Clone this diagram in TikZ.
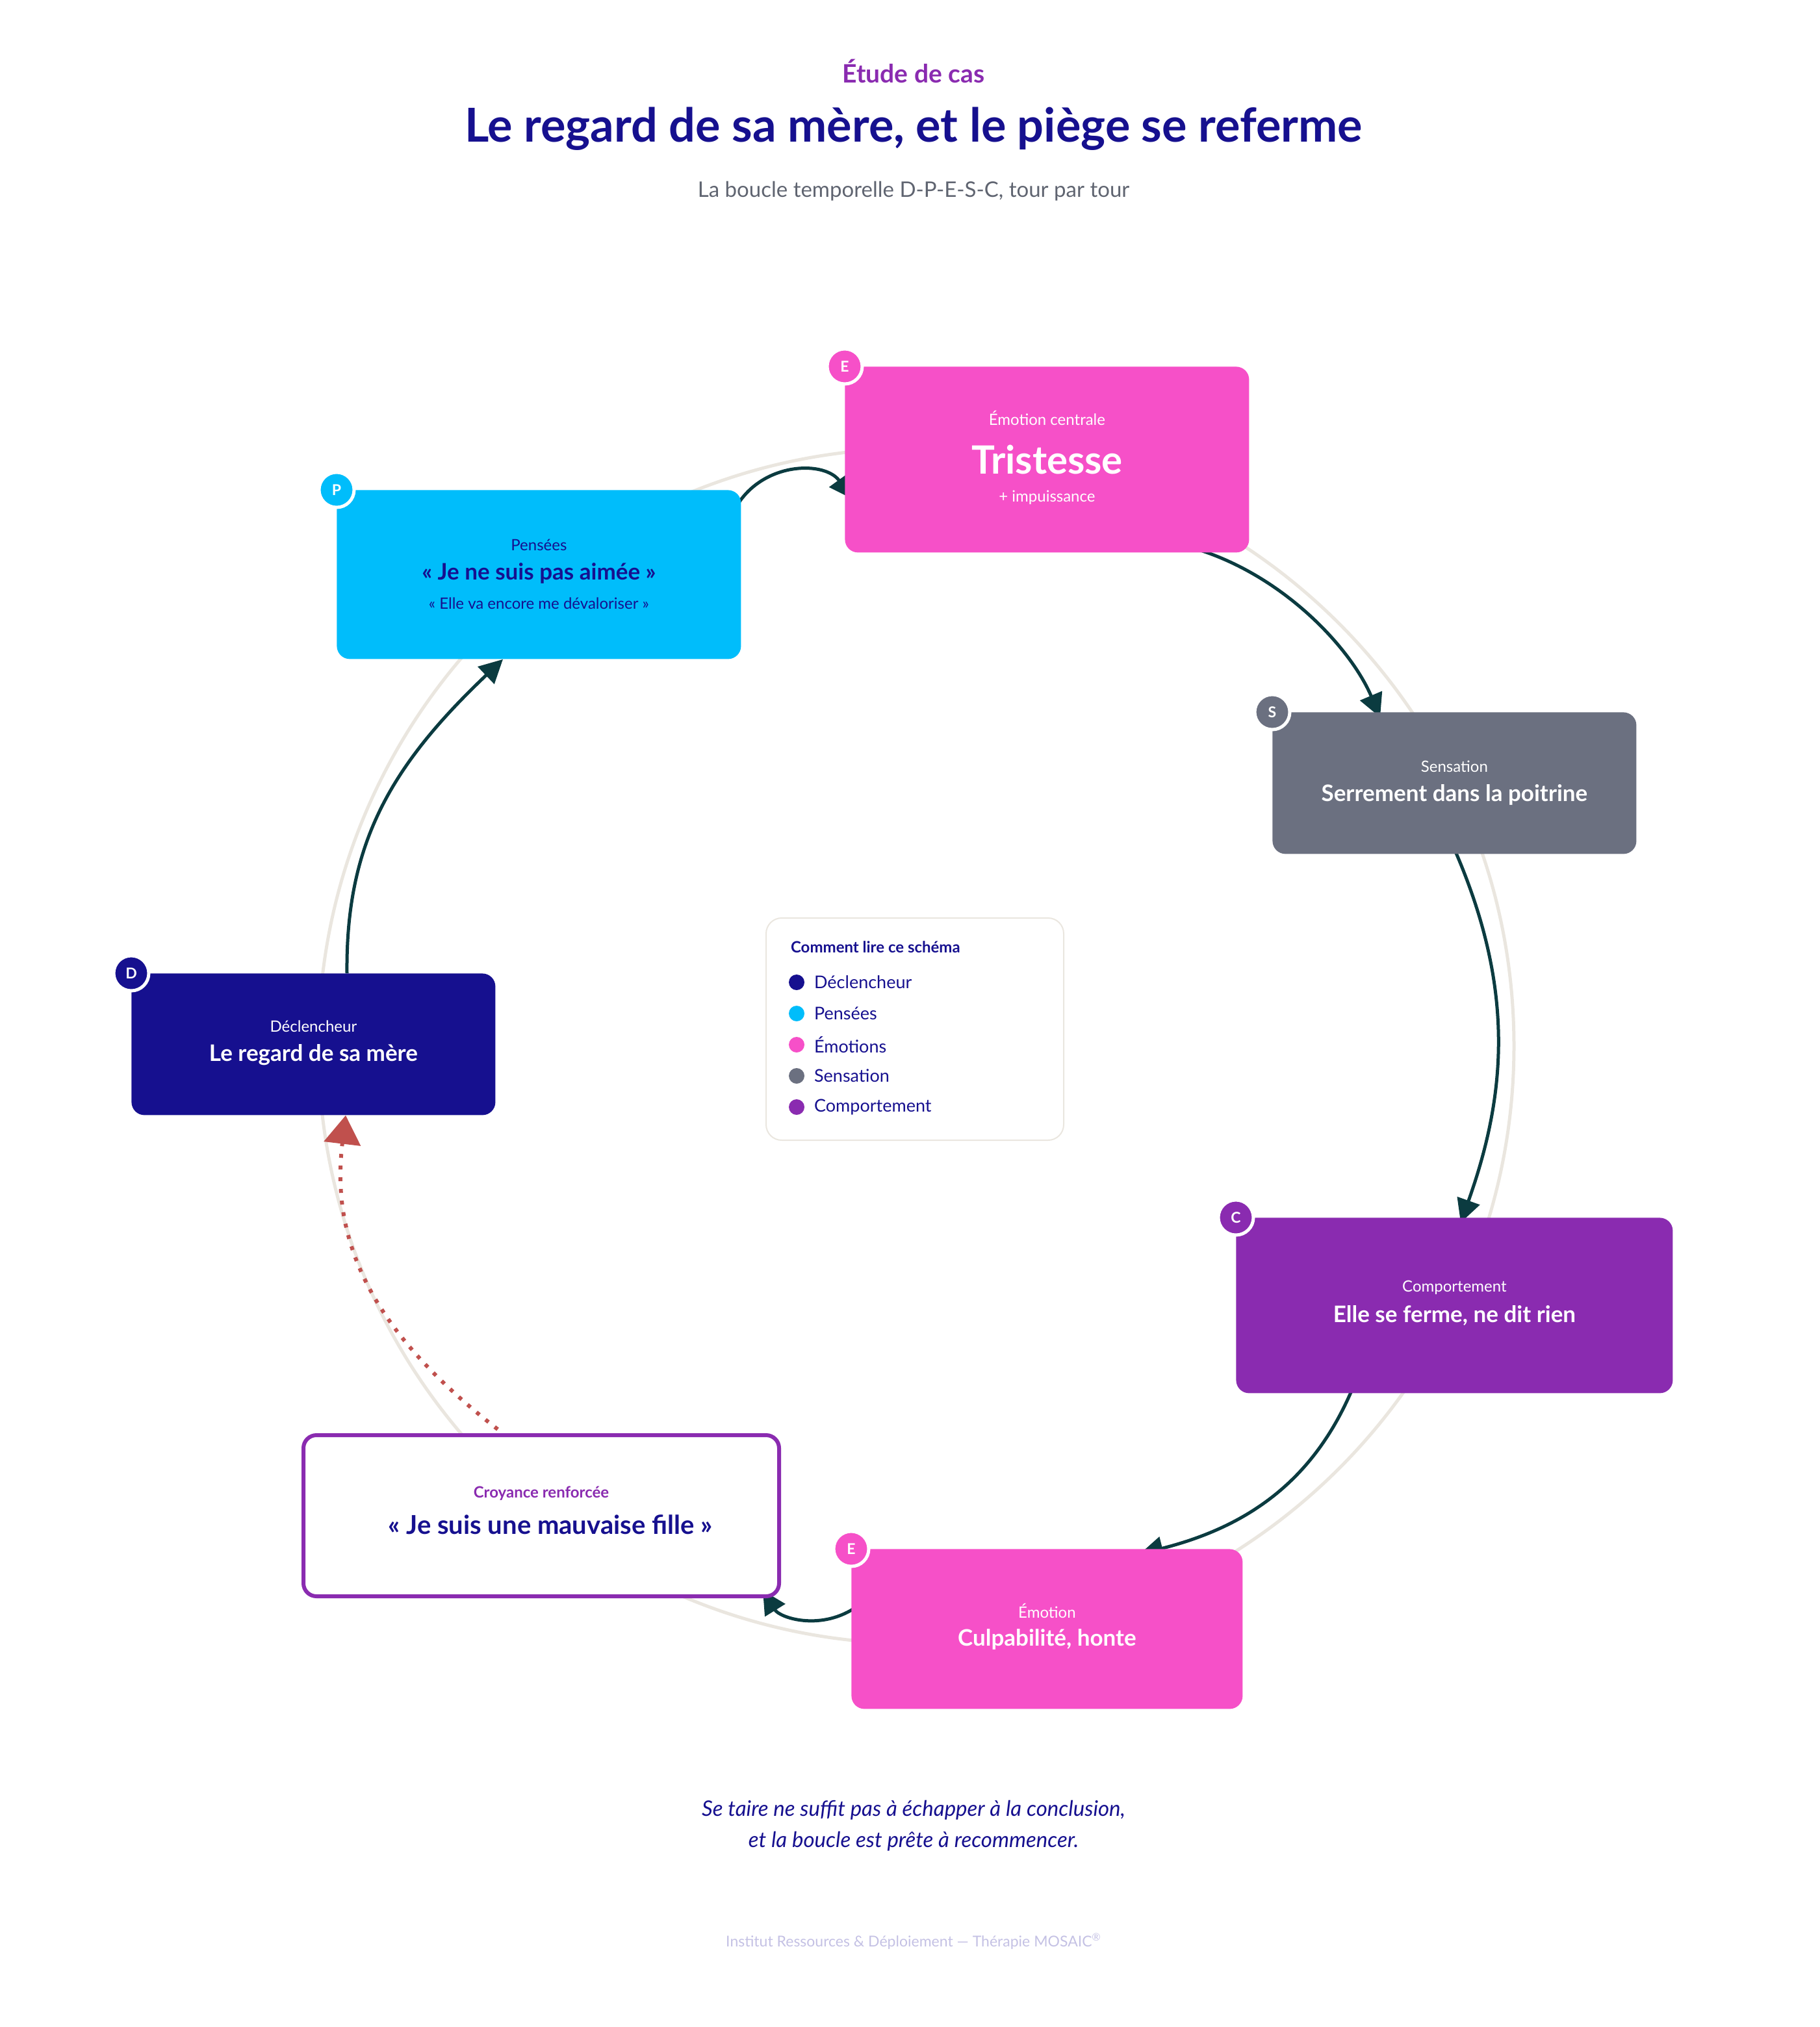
\documentclass[tikz,border=0pt]{standalone}
\usepackage{fontspec}
\setmainfont{Lato}
\usepackage{xcolor}
\usetikzlibrary{arrows.meta, positioning, calc, backgrounds}
\definecolor{csnavy}{HTML}{16108F}
\definecolor{cscyan}{HTML}{00BDFB}
\definecolor{cspink}{HTML}{F650C8}
\definecolor{csgray}{HTML}{6B7080}
\definecolor{cspurple}{HTML}{8A2BB0}
\definecolor{csteal}{HTML}{0B3B40}
\definecolor{csring}{HTML}{EAE6DF}
\definecolor{csred}{HTML}{C0504D}
\definecolor{cssub}{HTML}{5F6470}
\definecolor{csfoot}{HTML}{C4C1E4}
\begin{document}
\begin{tikzpicture}[
    x=1pt, y=-1pt,
    stepbox/.style={rectangle, rounded corners=10pt, anchor=north west, inner sep=0pt, align=center, text=white},
    badge/.style={circle, draw=white, line width=2.5pt, minimum size=27pt, inner sep=0pt, text=white, font=\bfseries\fontsize{11.5}{11}\selectfont},
    small/.style={font=\fontsize{12}{14}\selectfont},
    big/.style={font=\bfseries\fontsize{17.5}{20}\selectfont},
    key/.style={circle, minimum size=12pt, inner sep=0pt},
    keytext/.style={anchor=west, text=csnavy, font=\fontsize{13.5}{15}\selectfont},
    arrow/.style={-{Triangle[length=18pt, width=18pt]}, line width=2.5pt, color=csteal}
]
\useasboundingbox (0,0) rectangle (1400,1560);

% Titles
\node[text=cspurple, font=\bfseries\fontsize{19.5}{22}\selectfont] (kicker) at (703,55) {Étude de cas};
\node[text=csnavy, font=\bfseries\fontsize{36}{40}\selectfont] (title) at (703,99) {Le regard de sa mère, et le piège se referme};
\node[text=cssub, font=\fontsize{16.5}{19}\selectfont] (subtitle) at (703,147) {La boucle temporelle D-P-E-S-C, tour par tour};

% Steps
\node[stepbox, fill=cspink, minimum width=311pt, minimum height=143pt] (emo) at (650,282) {};
\node[text=white, small] at ($(emo.center)+(0,-32)$) {Émotion centrale};
\node[text=white, font=\bfseries\fontsize{30}{32}\selectfont] at ($(emo.center)+(0,0)$) {Tristesse};
\node[text=white, small] at ($(emo.center)+(0,29)$) {+ impuissance};

\node[stepbox, fill=cscyan, minimum width=311pt, minimum height=130pt] (pens) at (259,377) {};
\node[text=csnavy, small] at ($(pens.center)+(0,-23)$) {Pensées};
\node[text=csnavy, big] at ($(pens.center)+(0,-1)$) {« Je ne suis pas aimée »};
\node[text=csnavy, small] at ($(pens.center)+(0,22)$) {« Elle va encore me dévaloriser »};

\node[stepbox, fill=csgray, minimum width=280pt, minimum height=109pt] (sens) at (979,548) {};
\node[text=white, small] at ($(sens.center)+(0,-13)$) {Sensation};
\node[text=white, big] at ($(sens.center)+(0,9)$) {Serrement dans la poitrine};

\node[stepbox, fill=cspurple, minimum width=336pt, minimum height=135pt] (comp) at (951,937) {};
\node[text=white, small] at ($(comp.center)+(0,-14)$) {Comportement};
\node[text=white, big] at ($(comp.center)+(0,8)$) {Elle se ferme, ne dit rien};

\node[stepbox, fill=cspink, minimum width=301pt, minimum height=123pt] (honte) at (655,1192) {};
\node[text=white, small] at ($(honte.center)+(0,-14)$) {Émotion};
\node[text=white, big] at ($(honte.center)+(0,8)$) {Culpabilité, honte};

\node[stepbox, fill=white, draw=cspurple, line width=3pt, minimum width=366pt, minimum height=124pt] (croy) at (232,1103) {};
\node[text=cspurple, font=\bfseries\fontsize{12}{14}\selectfont] at ($(croy.center)+(0,-17)$) {Croyance renforcée};
\node[text=csnavy, font=\bfseries\fontsize{20}{22}\selectfont] at ($(croy.center)+(7,7)$) {« Je suis une mauvaise fille »};

\node[stepbox, fill=csnavy, minimum width=280pt, minimum height=109pt] (decl) at (101,749) {};
\node[text=white, small] at ($(decl.center)+(0,-14)$) {Déclencheur};
\node[text=white, big] at ($(decl.center)+(0,8)$) {Le regard de sa mère};

% Badges
\node[badge, fill=cspink] (bE) at (emo.north west) {E};
\node[badge, fill=cscyan] (bP) at (pens.north west) {P};
\node[badge, fill=csgray] (bS) at (sens.north west) {S};
\node[badge, fill=cspurple] (bC) at (comp.north west) {C};
\node[badge, fill=cspink] (bE2) at (honte.north west) {E};
\node[badge, fill=csnavy] (bD) at (decl.north west) {D};

% Ring and connectors behind the boxes
\begin{scope}[on background layer]
\draw[csring, line width=2.5pt] (705,805) circle (460);
\draw[arrow] ($(decl.north west)+(166,0)$) .. controls (266,650) and (300,590) .. ($(pens.south west)+(128,0)$);
\draw[arrow] ($(pens.north east)+(-2,10)$) .. controls (590,355) and (635,355) .. ($(emo.north west)+(6,102)$);
\draw[arrow] ($(emo.south east)+(-38,-2)$) .. controls (990,445) and (1040,500) .. ($(sens.north west)+(83,4)$);
\draw[arrow] ($(sens.south west)+(141,-2)$) .. controls (1165,760) and (1160,840) .. ($(comp.north west)+(173,4)$);
\draw[arrow] ($(comp.south west)+(89,-2)$) .. controls (1010,1140) and (960,1175) .. ($(honte.north west)+(222,4)$);
\draw[arrow] ($(honte.north west)+(2,46)$) .. controls (630,1255) and (600,1245) .. ($(croy.south east)+(-14,-6)$);
\draw[csred, line width=3pt, dash pattern=on 3pt off 6pt, -{Triangle[length=22pt, width=28pt]}]
  ($(croy.north west)+(151,-3)$) .. controls (280,1020) and (255,950) .. ($(decl.south west)+(165,0)$);
\end{scope}

% Legend
\node[rectangle, draw=csring, line width=1pt, rounded corners=12pt, minimum width=229pt, minimum height=171pt, anchor=north west] (legend) at (589,706) {};
\node[anchor=west, text=csnavy, font=\bfseries\fontsize{12}{14}\selectfont] (legtitle) at (605,729) {Comment lire ce schéma};
\foreach \c/\t [count=\i] in {csnavy/Déclencheur, cscyan/Pensées, cspink/Émotions, csgray/Sensation, cspurple/Comportement} {
  \node[key, fill=\c] (k\i) at (613,732+24*\i) {};
  \node[keytext] (kt\i) at (623,732+24*\i) {\t};
}

% Footer
\node[text=csnavy, align=center, font=\itshape\fontsize{16.5}{24}\selectfont] (moral) at (703,1405) {Se taire ne suffit pas à échapper à la conclusion,\\et la boucle est prête à recommencer.};
\node[text=csfoot, font=\fontsize{11.5}{12}\selectfont] (credit) at (703,1494) {Institut Ressources \& Déploiement — Thérapie MOSAIC\textsuperscript{®}};
\end{tikzpicture}
\end{document}
